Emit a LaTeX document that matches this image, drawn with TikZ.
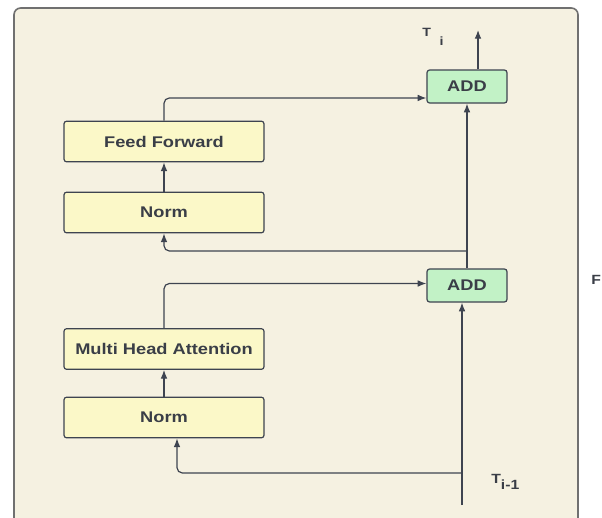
\documentclass[tikz,border=0pt]{standalone}
\usepackage{fontspec}
\setmainfont{Liberation Sans}
\newfontfamily\widesans[FakeStretch=1.18]{Liberation Sans}
\usepackage{tikz}
\usepackage{color}
\usetikzlibrary{arrows.meta}

\definecolor{bgcream}{HTML}{F5F1E1}
\definecolor{boxyellow}{HTML}{FBF8C8}
\definecolor{boxgreen}{HTML}{C2F2C6}
\definecolor{linegray}{HTML}{3E4450}
\definecolor{framegray}{HTML}{707070}
\definecolor{textgray}{HTML}{3A3E47}

\tikzset{
  layerbox/.style={draw=linegray, line width=0.9pt, fill=boxyellow, rounded corners=2pt,
    minimum width=150pt, minimum height=30.5pt, inner sep=0pt,
    font=\widesans\fontsize{11.6}{13}\selectfont\bfseries, text=textgray},
  addbox/.style={draw=linegray, line width=0.9pt, fill=boxgreen, rounded corners=2pt,
    minimum width=60pt, minimum height=24.75pt, inner sep=0pt,
    font=\widesans\fontsize{11.6}{13}\selectfont\bfseries, text=textgray},
  flow/.style={draw=linegray, line width=0.9pt, -{Latex[length=6.5pt,width=5pt]}},
  lbl/.style={inner sep=0pt, font=\widesans\fontsize{10}{12}\selectfont\bfseries, text=textgray}
}

\begin{document}
\begin{tikzpicture}[x=0.75pt,y=0.75pt,yscale=-1,xscale=1]
	\clip (0,0) rectangle (602,517);
	\fill[white] (0,0) rectangle (602,517);

	%Shape: Rounded Rectangle [id:outer]
	\draw[draw=framegray, line width=1.2pt, fill=bgcream, rounded corners=5pt] (14,8) rectangle (578,540);

	% Boxes
	\node[layerbox] (ff) at (164,141.5) {Feed Forward};
	\node[layerbox] (normtop) at (164,212.5) {Norm};
	\node[layerbox] (mha) at (164,349) {Multi Head Attention};
	\node[layerbox] (normbot) at (164,417.5) {Norm};
	\node[addbox] (addtop) at (467,86.5) {ADD};
	\node[addbox] (addbot) at (467,285.5) {ADD};

	% Free ends
	\coordinate (tin) at (462,505);
	\coordinate (split2) at (462,473);
	\coordinate (split1) at (467,251);
	\coordinate (tout) at (478,30);

	%Straight Lines
	\draw[flow] (normtop.north) -- (ff.south);
	\draw[flow] (normbot.north) -- (mha.south);
	\draw[flow] (addbot.north) -- (addtop.south);
	\draw[flow] (tin) -- (tin |- addbot.south);
	\draw[flow] (addtop.north -| tout) -- (tout);
	%Elbow Lines
	\draw[flow, rounded corners=4pt] (ff.north) |- ([yshift=8.6pt]addtop.west);
	\draw[flow, rounded corners=4pt] (mha.north) |- ([yshift=-1.5pt]addbot.west);
	\draw[flow, rounded corners=4pt] (split1) -| (normtop.south);
	\draw[flow, rounded corners=4pt] (split2) -| ([xshift=9.75pt]normbot.south);

	% Text Node
	\node[lbl, anchor=north west, font=\widesans\fontsize{9}{11}\selectfont\bfseries] (ti) at (422,28) {T\raisebox{-7pt}{\hspace{6.5pt}i}};
	% Text Node
	\node[lbl, anchor=north west] (tim) at (491,474) {T\raisebox{-4.5pt}{i-1}};
	% Text Node
	\node[lbl, anchor=west] (flabel) at (591,280) {F};

\end{tikzpicture}
\end{document}
